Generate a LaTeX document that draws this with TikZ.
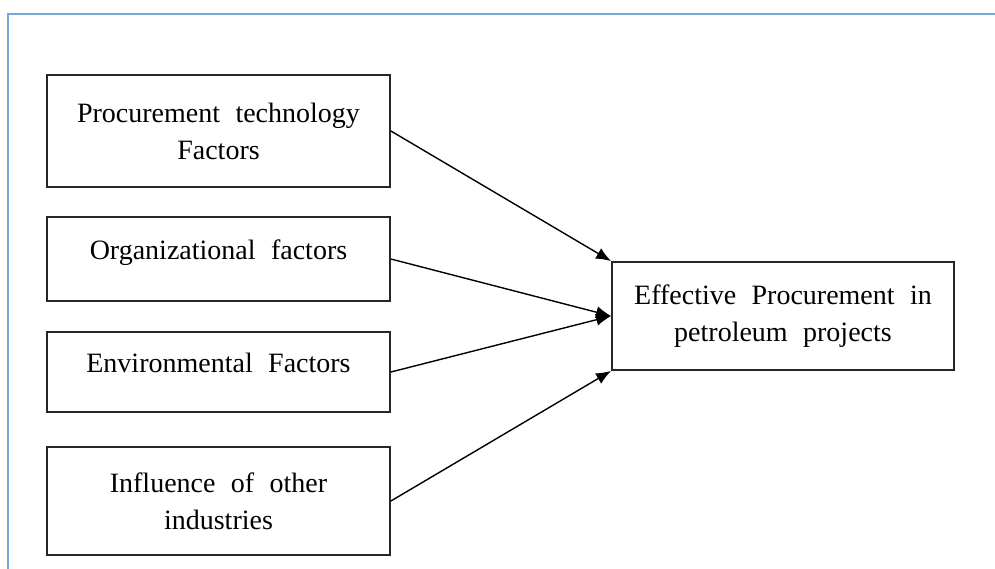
\documentclass[tikz,border=0pt]{standalone}
\usepackage{fontspec}
\setmainfont[WordSpace=2.2]{Liberation Serif}
\usepackage{tikz}
\usetikzlibrary{arrows.meta}
\definecolor{frameblue}{RGB}{118,168,222}

\begin{document}
\begin{tikzpicture}[x=1pt, y=-1pt,
    factor/.style={draw=black!85, line width=1.8pt, minimum width=343pt, align=center,
        inner sep=0pt, font=\fontsize{28}{37}\selectfont},
    link/.style={-{Latex[length=15pt, width=12pt]}, line width=1.4pt}]
          \useasboundingbox (0,0) rectangle (995,568);
          \draw[frameblue, line width=2pt] (995,14) -- (8,14) -- (8,570);

          \node[factor, minimum height=112pt] (Technology) at (218.5,131) {Procurement technology\\Factors};
          \node[factor, minimum height=84pt, text height=19pt, text depth=19pt] (Organizational) at (218.5,259) {Organizational factors};
          \node[factor, minimum height=80pt, text height=19pt, text depth=19pt] (Environmental) at (218.5,372) {Environmental Factors};
          \node[factor, minimum height=108pt] (Industries) at (218.5,501) {Influence of other\\industries};
          \node[factor, minimum width=342pt, minimum height=108pt] (Procurement) at (783,316) {Effective Procurement in\\petroleum projects};

          \draw[link] (Technology.east) to (Procurement.north west);
          \draw[link] (Organizational.east) to (Procurement.west);
          \draw[link] (Environmental.east) to (Procurement.west);
          \draw[link] (Industries.east) to (Procurement.south west);
        \end{tikzpicture}
\end{document}
